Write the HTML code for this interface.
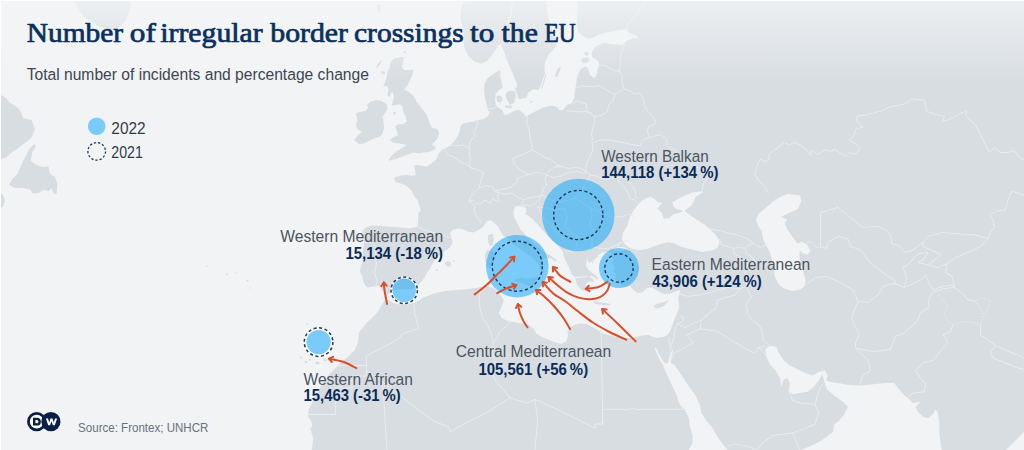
<!DOCTYPE html>
<html><head><meta charset="utf-8"><title>Number of irregular border crossings to the EU</title>
<style>
html,body{margin:0;padding:0;}
body{width:1024px;height:450px;overflow:hidden;background:#f1f3f5;font-family:"Liberation Sans",sans-serif;}
#wrap{position:relative;width:1024px;height:450px;overflow:hidden;background:#f1f3f5;}
svg{position:absolute;left:0;top:0;}

</style></head><body>
<div id="wrap">
<svg width="1024" height="450" viewBox="0 0 1024 450">
<defs>
<linearGradient id="fade" x1="0" y1="0" x2="0" y2="1"><stop offset="0" stop-color="#f4f5f7" stop-opacity="0.74"/><stop offset="1" stop-color="#f4f5f7" stop-opacity="0"/></linearGradient>
</defs>
<rect width="1024" height="450" fill="#f1f3f5"/>
<path d="M74.0 0.0 L78.0 8.0 L82.0 15.0 L90.0 21.0 L100.0 27.0 L110.0 30.0 L120.0 27.0 L126.0 20.0 L130.0 10.0 L131.0 0.0 Z M0.0 94.5 L5.8 97.7 L9.7 102.6 L17.7 107.4 L21.0 112.3 L23.2 118.0 L31.6 120.3 L34.8 128.4 L32.3 136.5 L27.4 141.3 L22.6 144.5 L16.1 149.4 L11.3 152.6 L6.5 157.4 L0.0 159.0 Z M33.9 143.9 L36.1 146.1 L32.3 152.6 L30.6 160.6 L35.5 164.5 L41.9 167.1 L48.4 166.5 L50.0 173.5 L54.8 176.8 L57.4 183.2 L56.5 194.5 L53.2 192.9 L51.6 188.1 L48.4 191.3 L43.5 189.7 L38.7 192.9 L32.3 193.5 L30.6 189.7 L22.6 188.1 L14.5 188.1 L9.0 184.8 L12.9 178.4 L17.7 173.5 L21.0 165.5 L25.8 155.8 L29.0 149.4 Z M0.0 193.0 L3.0 195.0 L5.0 201.0 L3.0 207.0 L0.0 208.0 Z M465.8 0.0 L462.5 4.0 L461.0 10.0 L460.4 19.0 L462.0 25.0 L463.0 30.0 L464.2 40.0 L463.8 46.0 L466.0 51.0 L468.5 56.0 L474.0 61.3 L481.5 63.8 L487.0 61.0 L491.0 56.5 L494.5 51.5 L498.5 45.0 L501.5 44.5 L504.0 51.3 L507.0 60.0 L510.0 66.7 L513.3 75.0 L516.7 83.3 L517.5 85.8 L515.0 89.2 L517.5 95.0 L519.2 99.2 L526.7 97.5 L528.3 92.5 L533.3 89.2 L538.3 90.0 L540.0 87.5 L542.5 80.0 L545.0 73.3 L544.5 66.7 L545.3 61.3 L549.0 53.8 L553.3 50.0 L556.7 45.0 L556.0 38.0 L552.0 30.0 L549.0 20.0 L547.0 10.0 L546.5 0.0 Z M401.7 56.7 L404.2 57.5 L403.3 61.7 L401.7 66.7 L404.2 70.0 L413.3 70.0 L412.5 75.0 L410.0 80.0 L407.5 85.0 L404.2 89.2 L408.3 91.7 L413.3 95.8 L416.7 101.7 L421.7 108.3 L426.7 115.0 L429.2 121.7 L431.7 127.5 L437.5 129.2 L439.2 133.3 L437.5 138.3 L434.2 142.5 L431.7 145.0 L435.8 146.7 L435.0 149.2 L430.0 151.7 L423.3 152.5 L418.3 153.3 L413.3 152.5 L408.3 154.2 L401.7 156.7 L395.0 159.2 L388.3 160.8 L390.8 156.7 L395.8 151.7 L401.7 148.3 L406.7 145.0 L403.3 144.2 L398.3 143.3 L392.5 142.5 L390.0 140.0 L393.3 137.5 L398.3 135.0 L396.7 130.8 L395.0 126.7 L398.3 124.2 L403.3 124.2 L406.7 121.7 L405.8 116.7 L403.3 111.7 L402.5 106.7 L400.0 104.2 L395.8 105.0 L391.7 105.8 L392.5 101.7 L394.2 96.7 L392.5 91.7 L390.8 93.3 L389.2 97.5 L387.5 95.0 L388.3 90.0 L387.5 85.8 L383.3 86.7 L385.0 82.5 L386.7 77.5 L387.5 71.7 L390.0 66.7 L390.8 61.7 L395.0 58.3 Z M381.7 60.0 L377.5 64.2 L375.8 68.3 L378.3 66.7 L380.8 63.3 Z M381.0 71.0 L384.5 71.5 L385.0 74.5 L381.5 74.0 Z M403.5 51.0 L406.5 51.5 L406.0 53.5 L403.5 53.0 Z M375.8 100.0 L381.7 100.8 L386.7 104.2 L387.5 109.2 L385.0 113.3 L382.5 116.7 L383.3 121.7 L384.2 127.5 L382.5 133.3 L380.0 136.7 L374.2 138.3 L369.2 140.8 L364.2 143.3 L359.2 144.2 L354.2 140.0 L357.5 135.8 L361.7 131.7 L357.5 129.2 L355.8 125.0 L357.5 120.0 L355.8 113.3 L360.8 111.7 L365.8 110.8 L368.3 107.5 L366.7 105.0 L370.8 101.7 Z M393.5 112.0 L395.5 112.0 L395.5 114.5 L393.5 114.5 Z M496.5 96.5 L499.0 95.5 L502.0 97.0 L502.5 100.5 L500.0 102.5 L497.0 101.5 Z M506.0 93.0 L509.0 91.0 L515.0 91.0 L515.8 97.0 L514.0 103.0 L510.0 105.0 L507.0 100.0 L505.8 96.0 Z M505.0 105.2 L511.7 105.8 L511.7 108.3 L505.0 107.8 Z M530.5 100.5 L532.5 101.0 L532.5 102.8 L530.5 102.5 Z M541.2 88.3 L543.0 82.0 L545.3 74.2 L546.3 74.5 L544.2 82.0 L542.4 88.5 Z M555.0 76.7 L556.7 70.0 L560.8 65.8 L559.7 71.7 L556.9 76.9 Z M581.7 59.0 L584.0 57.5 L588.0 57.8 L590.0 60.0 L587.0 62.5 L583.5 63.3 L581.5 61.5 Z M584.0 52.5 L587.0 51.7 L589.0 53.5 L588.0 55.8 L585.0 55.5 Z M444.5 263.0 L447.0 261.3 L450.0 261.7 L451.3 264.0 L449.5 267.0 L446.5 266.3 Z M436.0 269.3 L437.8 269.3 L437.8 271.0 L436.0 271.0 Z M453.0 260.5 L455.0 260.5 L455.0 261.8 L453.0 261.8 Z M488.2 234.9 L492.7 233.8 L493.8 239.4 L492.7 244.9 L489.4 246.0 L487.7 240.5 Z M487.0 250.5 L492.5 249.5 L494.5 254.0 L494.0 262.0 L491.5 267.5 L487.5 268.0 L485.5 262.0 L485.0 255.0 Z M514.4 279.5 L520.5 277.8 L527.2 278.4 L533.9 277.8 L538.4 276.7 L536.7 280.1 L535.0 284.5 L531.7 286.7 L527.2 285.6 L522.8 283.4 L518.3 282.3 L515.0 281.2 Z M592.5 301.6 L596.0 301.4 L600.0 302.2 L607.5 303.5 L611.2 304.1 L610.0 305.4 L602.5 305.0 L595.0 303.7 Z M653.8 306.0 L656.9 303.9 L660.4 302.9 L665.5 301.4 L669.1 299.8 L666.6 302.9 L664.5 305.5 L660.4 307.5 L656.3 308.5 L654.3 307.5 Z M299.8 356.7 L302.2 356.7 L302.2 358.3 L299.8 358.3 Z M304.7 361.1 L307.3 361.1 L307.3 362.9 L304.7 362.9 Z M308.8 359.3 L310.8 359.3 L310.8 360.7 L308.8 360.7 Z M315.5 361.7 L319.1 361.7 L319.1 364.3 L315.5 364.3 Z M323.2 358.9 L326.4 358.9 L326.4 361.1 L323.2 361.1 Z M328.4 358.5 L331.2 358.5 L331.2 360.5 L328.4 360.5 Z M306.1 323.4 L307.9 323.4 L307.9 324.6 L306.1 324.6 Z M206.7 265.5 L208.3 265.5 L208.3 266.5 L206.7 266.5 Z M226.0 273.8 L228.0 273.8 L228.0 275.0 L226.0 275.0 Z M234.8 272.2 L236.4 272.2 L236.4 273.2 L234.8 273.2 Z M246.3 280.1 L248.3 280.1 L248.3 281.3 L246.3 281.3 Z M249.5 287.6 L250.9 287.6 L250.9 288.4 L249.5 288.4 Z M306.7 323.4 L308.7 323.4 L308.7 324.6 L306.7 324.6 Z M377.0 4.0 L380.0 5.0 L380.5 12.0 L378.0 13.0 Z M577.5 0.0 L577.5 12.0 L576.7 25.0 L578.3 31.7 L582.0 35.5 L586.7 38.3 L591.7 38.3 L598.3 35.0 L610.0 31.7 L620.0 30.0 L626.7 29.2 L628.3 32.5 L636.7 35.8 L639.2 38.3 L633.3 38.3 L626.7 40.8 L623.3 45.0 L613.3 44.2 L603.3 43.3 L596.7 45.8 L593.3 49.2 L591.7 53.3 L592.5 57.5 L598.3 60.8 L599.2 65.0 L597.5 70.0 L596.7 75.0 L594.2 78.3 L590.0 75.0 L588.3 69.2 L585.8 66.3 L580.8 69.2 L578.3 73.3 L576.7 80.0 L575.8 86.7 L575.0 90.0 L574.2 98.3 L571.7 103.3 L566.7 105.0 L563.3 110.0 L559.2 110.0 L556.7 106.7 L550.0 105.8 L543.3 107.5 L536.7 110.8 L530.0 114.2 L525.8 116.7 L523.3 113.3 L519.2 110.0 L514.2 110.8 L508.3 114.2 L504.2 115.0 L502.5 110.0 L498.3 107.5 L495.8 105.0 L495.0 99.2 L495.8 93.3 L499.2 90.0 L502.5 87.5 L501.7 83.3 L500.0 75.0 L500.8 70.0 L498.3 70.8 L493.3 74.2 L487.5 78.3 L484.2 85.0 L484.2 93.3 L485.8 101.7 L487.5 108.3 L489.5 113.3 L487.5 116.7 L483.3 119.2 L478.3 120.0 L473.3 121.7 L468.3 122.5 L463.3 123.3 L460.8 125.8 L460.0 130.0 L458.3 135.0 L455.8 139.2 L452.5 143.3 L450.0 145.8 L445.8 148.3 L441.7 150.0 L438.5 154.0 L437.5 156.7 L435.0 160.8 L431.7 163.3 L426.7 166.7 L421.7 165.8 L417.5 165.0 L414.2 165.3 L415.0 170.0 L415.8 175.0 L411.7 175.8 L405.8 175.0 L400.0 175.8 L394.2 177.5 L395.0 181.7 L400.0 183.3 L405.0 185.0 L408.3 187.5 L411.7 190.8 L414.2 195.8 L417.5 200.0 L419.2 205.0 L420.8 210.0 L418.3 213.3 L418.3 220.0 L417.5 226.7 L410.0 228.3 L400.0 227.5 L390.0 226.7 L380.0 225.8 L371.7 225.8 L365.8 227.5 L362.5 230.8 L363.3 236.7 L364.2 241.7 L363.0 250.0 L362.5 261.7 L360.8 266.7 L360.0 271.7 L362.5 276.7 L363.3 281.7 L365.8 286.0 L368.0 287.5 L373.0 286.5 L377.0 285.5 L380.5 287.0 L382.0 290.0 L383.5 293.0 L385.5 296.0 L386.8 296.3 L389.5 293.0 L393.0 290.3 L400.0 289.5 L408.0 289.5 L414.0 288.3 L418.0 285.0 L422.0 281.0 L425.0 276.7 L426.7 272.5 L430.0 269.2 L431.7 265.0 L435.0 260.0 L440.0 255.0 L445.0 250.8 L450.0 247.5 L452.5 243.3 L451.7 238.3 L450.0 233.3 L452.5 230.0 L458.3 228.3 L463.3 229.2 L468.3 231.7 L473.3 232.5 L478.3 230.0 L483.3 226.7 L485.8 222.5 L488.0 220.3 L491.7 220.8 L497.5 225.8 L500.8 231.7 L503.3 235.8 L508.3 238.2 L513.9 244.9 L519.4 248.3 L525.0 252.7 L530.6 256.1 L535.0 260.5 L538.4 265.0 L540.6 270.5 L541.5 275.5 L544.0 271.0 L543.0 266.0 L541.0 262.0 L545.0 258.5 L547.3 258.3 L550.6 258.3 L554.0 260.5 L556.5 262.0 L555.8 259.4 L551.7 256.1 L545.0 252.7 L539.5 248.3 L533.9 243.8 L528.3 238.2 L523.9 232.7 L520.5 229.3 L517.5 223.3 L514.2 217.5 L513.3 211.7 L515.0 206.7 L520.0 205.5 L525.0 207.0 L525.8 208.3 L526.5 212.5 L524.5 214.0 L527.5 215.2 L531.7 218.3 L536.7 223.3 L541.7 229.2 L547.0 235.0 L553.0 241.0 L559.0 246.5 L562.8 251.5 L564.1 257.7 L566.6 262.7 L568.5 266.4 L570.3 270.2 L571.6 273.9 L573.4 275.8 L575.3 277.6 L575.9 281.4 L577.2 285.1 L579.0 287.6 L581.5 289.5 L584.0 290.7 L585.3 291.3 L586.5 287.6 L585.9 283.9 L587.8 282.0 L590.2 281.4 L592.7 282.6 L594.0 280.7 L592.1 278.2 L589.6 277.0 L591.0 275.5 L594.5 277.5 L597.7 279.8 L598.5 279.0 L595.9 275.8 L592.7 273.3 L589.6 270.8 L587.1 268.3 L585.9 264.5 L587.0 261.0 L585.9 257.1 L587.5 259.5 L589.0 263.3 L591.5 261.6 L593.4 263.9 L592.3 259.2 L594.6 260.4 L595.0 257.5 L597.1 257.9 L598.0 255.0 L601.7 252.5 L606.0 251.7 L610.0 252.5 L613.0 254.0 L611.0 257.5 L614.0 259.0 L612.0 263.0 L614.5 266.5 L613.0 271.0 L616.0 274.5 L615.0 279.0 L619.0 282.0 L622.0 285.5 L626.0 287.0 L630.0 286.0 L633.3 290.0 L638.3 293.3 L643.3 291.7 L646.7 288.3 L651.7 287.5 L656.7 290.0 L661.7 293.3 L666.7 294.2 L671.7 293.3 L675.8 291.2 L680.3 290.1 L679.3 294.2 L678.3 298.3 L678.8 302.4 L679.3 306.5 L678.3 310.6 L676.3 314.6 L674.7 318.7 L673.2 322.8 L671.7 326.9 L670.6 330.0 L669.7 331.5 L667.3 335.2 L663.4 336.7 L657.2 337.9 L651.7 336.7 L648.8 334.8 L642.5 335.4 L637.5 336.6 L630.0 337.9 L622.5 337.9 L615.0 336.6 L607.5 334.8 L602.5 333.5 L597.5 329.8 L592.5 327.2 L586.2 324.1 L580.0 323.5 L575.0 324.8 L570.0 327.2 L567.5 331.0 L568.1 336.0 L566.2 341.6 L561.2 344.1 L555.0 342.2 L548.8 339.8 L542.5 337.2 L536.2 333.5 L533.8 329.1 L531.0 326.8 L528.5 324.5 L518.5 323.1 L508.5 321.2 L504.5 319.5 L501.3 317.5 L498.8 312.5 L501.3 307.5 L503.8 300.0 L501.6 296.8 L499.9 294.0 L497.2 291.2 L492.7 287.9 L488.2 286.2 L481.6 286.7 L476.0 287.9 L473.3 288.3 L466.7 289.2 L456.7 290.0 L446.7 290.8 L438.3 292.5 L430.0 295.0 L423.3 297.5 L418.0 301.0 L414.0 303.0 L408.0 304.5 L400.0 304.5 L394.0 303.5 L390.0 301.0 L386.0 299.0 L384.2 300.8 L380.8 306.7 L376.7 313.3 L371.7 318.3 L366.7 322.5 L363.5 327.0 L359.0 332.5 L358.0 342.5 L354.8 350.0 L348.5 356.3 L342.3 361.3 L336.0 367.5 L329.8 373.8 L323.5 381.3 L321.9 384.7 L315.6 395.6 L311.7 403.4 L308.6 409.7 L307.8 415.9 L310.9 420.6 L312.5 425.3 L310.2 428.4 L311.7 433.1 L313.3 439.4 L312.5 445.6 L311.7 450.0 L688.8 450.0 L692.5 443.0 L692.5 435.5 L690.0 426.8 L688.8 418.0 L685.0 410.5 L678.8 403.0 L676.3 394.3 L672.0 385.5 L668.1 376.8 L665.0 370.6 L663.0 365.0 L660.4 361.0 L657.6 355.5 L655.6 350.5 L654.7 347.8 L655.9 347.6 L657.5 350.5 L659.6 355.0 L662.2 359.5 L665.0 363.2 L667.3 363.6 L668.5 361.5 L670.1 357.3 L672.0 350.0 L673.1 350.2 L671.5 357.5 L670.2 362.0 L672.5 364.0 L674.2 364.5 L677.8 369.6 L681.9 375.8 L686.0 381.9 L690.0 388.0 L696.3 396.8 L700.0 405.5 L701.3 413.0 L706.3 420.5 L712.5 428.0 L717.5 436.8 L723.8 445.5 L727.5 450.0 L800.0 450.0 L803.0 449.3 L811.8 445.5 L819.3 441.8 L826.8 436.8 L833.0 431.8 L834.3 424.3 L839.3 420.5 L844.3 414.3 L848.0 406.8 L843.0 401.8 L834.3 395.5 L826.8 389.3 L824.3 381.8 L822.5 374.0 L820.5 377.0 L818.8 380.5 L813.8 386.8 L807.5 391.8 L800.0 393.0 L792.5 394.3 L788.8 390.5 L790.0 384.3 L787.5 378.0 L783.8 379.3 L781.3 386.8 L780.0 378.0 L776.3 371.8 L770.0 364.3 L766.3 356.8 L765.0 349.3 L770.0 345.5 L776.3 346.8 L778.8 353.0 L783.8 360.5 L790.0 365.5 L797.5 369.3 L805.0 373.0 L812.5 375.5 L818.8 371.8 L825.0 370.5 L827.5 375.5 L826.5 380.5 L829.3 381.8 L838.0 383.0 L848.0 385.0 L860.5 385.5 L873.0 384.3 L885.5 383.0 L894.3 383.0 L898.0 388.0 L903.0 394.3 L908.0 398.0 L913.0 403.0 L920.5 401.8 L915.5 406.8 L918.0 411.8 L923.0 416.8 L928.0 418.0 L933.0 414.3 L935.5 409.3 L938.0 413.0 L939.3 423.0 L939.3 433.0 L940.5 443.0 L941.8 450.0 L1005.5 450.0 L1013.0 443.0 L1020.5 435.5 L1024.0 431.8 L1024.0 0.0 Z" fill="#d8dde1"/>
<path d="M630.7 215.5 L634.2 209.3 L641.3 201.3 L646.6 197.8 L649.5 197.6 L650.4 196.5 L651.3 197.6 L652.9 197.8 L658.2 202.2 L662.6 203.1 L660.0 205.5 L657.3 208.4 L661.7 212.9 L663.5 218.2 L668.8 218.2 L673.3 214.6 L678.6 212.9 L682.2 212.0 L685.7 212.0 L689.3 214.6 L694.6 218.2 L699.9 221.7 L705.3 225.3 L710.6 229.7 L715.9 235.1 L718.6 239.5 L719.5 243.9 L716.8 248.4 L710.6 251.0 L701.7 251.9 L694.6 250.2 L687.5 248.4 L680.4 246.6 L673.3 243.1 L668.0 242.2 L660.9 243.9 L653.7 246.6 L646.6 249.3 L639.5 250.2 L630.7 248.4 L625.3 244.8 L621.8 239.5 L622.7 233.3 L627.1 226.2 L628.9 220.0 Z M682.4 212.6 L682.2 210.2 L676.8 209.3 L673.3 206.6 L672.4 202.2 L676.8 199.5 L682.2 196.9 L687.5 194.2 L692.8 192.4 L698.2 191.5 L702.6 191.2 L703.0 192.3 L699.9 194.2 L695.5 196.9 L693.7 201.3 L691.0 205.8 L687.5 208.4 L685.0 210.2 L685.3 212.6 Z M787.3 194.0 L800.1 195.2 L801.4 201.6 L797.5 209.3 L791.2 211.9 L786.0 214.4 L780.9 217.0 L787.3 219.5 L784.8 223.4 L787.3 229.8 L791.2 234.9 L795.0 240.0 L797.5 243.8 L801.4 241.8 L807.0 244.5 L810.3 250.5 L808.0 254.8 L802.7 253.2 L799.8 250.5 L799.5 256.6 L801.0 264.3 L803.5 272.0 L805.5 280.0 L805.0 286.0 L800.0 289.5 L792.0 291.0 L784.0 288.5 L778.4 284.0 L775.0 277.0 L773.5 268.0 L772.0 260.0 L769.4 251.5 L765.6 245.1 L763.0 238.7 L761.7 231.0 L757.9 225.9 L755.9 219.5 L759.2 213.1 L765.6 208.0 L773.2 201.6 L780.9 196.5 Z M575.0 277.0 L581.0 276.4 L586.8 275.9 L586.8 276.9 L581.0 277.5 L575.0 278.2 Z M614.0 248.5 L619.0 247.0 L625.0 247.5 L627.0 249.5 L622.0 251.0 L616.0 250.5 Z" fill="#f1f3f5"/>
<path d="M527.5 116.7 L526.7 123.3 L529.2 130.0 L530.0 138.3 L531.7 145.0 L532.5 150.0 M532.5 150.0 L526.7 152.5 L520.0 155.8 L512.5 158.3 L514.2 164.2 L518.3 168.3 L523.3 171.7 L528.3 174.2 L530.0 174.2 M532.5 150.0 L538.3 153.3 L545.0 157.5 L550.0 159.2 L556.7 164.2 L561.7 166.7 M561.7 166.7 L568.3 168.3 L575.0 167.5 L581.7 168.3 L586.7 171.7 M546.7 175.0 L550.0 170.0 L555.0 166.7 L561.7 166.7 M566.7 110.8 L576.7 111.7 L586.7 111.7 L590.8 113.3 M572.5 104.2 L576.7 100.8 L581.7 102.5 L586.7 104.2 L586.7 110.0 L590.8 113.3 M590.8 113.3 L594.2 116.7 L600.0 115.8 L606.7 112.5 L609.2 104.2 L613.3 100.0 L615.0 94.2 M594.2 116.7 L595.0 121.7 L593.3 126.7 L591.5 133.3 L592.5 138.3 L592.0 143.3 L593.0 150.0 L590.0 156.7 L586.7 163.3 L585.5 168.0 L586.7 171.7 M477.5 120.8 L476.7 126.7 L474.2 131.7 L475.0 136.7 L470.8 140.0 L469.2 145.0 L470.0 150.0 M450.0 145.0 L456.7 145.8 L463.3 145.0 L468.3 148.3 L470.0 150.0 M444.2 150.0 L448.3 155.0 L455.0 157.5 L460.0 161.7 L465.8 164.2 L469.2 166.7 L471.7 168.3 M470.0 150.0 L469.2 155.0 L470.8 159.2 L469.2 163.3 L470.0 166.7 L471.7 168.3 M471.7 168.3 L476.7 169.2 L483.3 172.5 L481.7 178.3 L480.0 183.3 L479.2 187.5 M487.5 108.5 L492.0 108.8 L496.5 107.0 M479.2 187.5 L486.7 185.8 L493.3 186.7 L494.2 190.8 L498.3 192.5 L497.5 197.5 L499.2 200.8 L496.7 201.7 L493.3 198.3 L490.0 203.3 L485.0 200.0 L480.0 204.2 L475.8 203.3 L472.5 200.0 L469.2 201.7 L470.8 196.7 L474.2 192.5 L479.2 187.5 M469.2 201.7 L475.0 205.8 L474.2 211.7 L476.7 216.7 L480.0 220.8 L481.7 224.2 M494.2 190.8 L500.0 190.0 L506.7 188.3 L511.7 186.7 L516.7 182.5 L517.5 178.3 L522.5 176.7 L530.0 174.2 L536.7 172.5 L543.3 173.3 L546.7 175.0 L545.0 180.0 L546.7 185.0 L543.3 189.2 L541.7 195.0 L536.7 196.7 L530.0 197.5 L523.3 200.0 L516.7 196.7 L512.5 193.3 L505.0 194.2 L498.3 192.5 M546.7 175.0 L553.3 177.5 L561.7 175.8 L568.3 172.5 L576.7 171.7 L583.3 173.3 L586.7 171.7 M523.3 200.0 L521.7 204.2 L520.8 206.7 L525.0 205.0 L530.0 205.8 L535.0 203.3 L538.3 200.8 L541.7 195.0 M541.7 195.0 L546.7 197.5 L551.7 200.8 L556.7 202.5 L565.0 201.0 L575.0 198.0 M575.0 198.0 L580.0 192.0 L586.0 183.0 L590.0 175.0 M586.7 171.7 L590.0 175.0 L596.7 176.0 L605.0 179.2 L615.8 177.5 M538.0 207.0 L548.0 208.0 L558.0 209.0 L565.0 209.0 L567.0 218.0 L565.0 226.0 L570.0 232.0 M538.0 207.0 L543.0 217.0 L551.0 226.0 L559.0 235.0 L563.0 238.0 L570.0 232.0 L577.0 236.0 L585.0 240.0 L592.0 238.0 M575.0 198.0 L583.0 203.0 L590.0 208.0 L592.0 215.0 L590.0 224.0 L594.0 232.0 L592.0 238.0 L592.0 247.0 M565.0 251.0 L572.0 252.0 L576.0 248.0 L577.0 244.0 L577.0 236.0 M576.0 248.0 L585.0 250.0 L592.0 247.0 L597.0 248.0 L607.0 249.0 L615.0 246.0 L620.0 243.0 M590.0 208.0 L600.0 212.0 L612.0 217.5 L622.0 216.5 L629.0 214.0 L634.0 217.0 M620.0 243.0 L627.0 240.5 L630.0 243.0 M620.0 243.0 L617.0 248.0 L614.0 253.0 M625.0 44.2 L622.5 50.0 L620.0 56.7 L620.8 63.3 L619.2 70.8 M599.2 65.8 L604.2 65.0 L610.0 68.3 L615.0 70.8 L619.2 70.8 M619.2 70.8 L622.5 75.8 L621.7 81.7 L624.2 89.2 M575.0 88.3 L581.7 85.8 L590.0 86.7 L600.0 85.8 L605.0 89.2 L611.7 93.3 L615.0 94.2 L624.2 89.2 M624.2 89.2 L630.0 90.8 L634.2 94.2 L640.0 93.3 L643.3 98.3 L644.2 105.8 L648.3 111.7 L653.3 116.7 L655.8 121.7 L653.3 125.0 L648.3 126.7 L647.5 131.7 L649.2 137.5 M649.2 137.5 L642.5 140.0 L640.0 145.8 L633.3 145.0 L626.7 143.3 L618.3 141.7 L610.0 140.0 L600.0 140.0 L594.2 142.5 L592.0 143.3 M649.2 137.5 L655.0 135.8 L661.7 135.0 L665.8 138.3 L667.5 144.2 L670.8 148.3 L675.0 150.0 L678.3 155.0 L683.3 160.0 L690.0 163.3 L696.7 166.7 L703.3 171.7 L706.7 178.3 L703.3 183.3 L702.5 190.8 M615.8 177.5 L620.0 182.5 L625.0 187.5 L628.3 193.3 L630.0 198.3 L635.0 200.0 L637.5 203.3 M615.8 177.5 L622.5 177.5 L628.3 180.8 L632.5 185.8 L635.8 191.7 L635.0 195.8 L637.5 198.3 M512.5 0.0 L511.0 15.0 L503.8 30.0 L501.3 46.0 M647.5 0.0 L637.5 12.5 L627.5 25.0 L626.3 30.0 M364.5 242.0 L372.0 243.0 L376.0 247.0 L375.4 253.6 L376.3 264.2 L374.6 273.0 L377.2 281.8 L375.4 287.0 M417.5 227.0 L425.0 230.0 L435.0 233.0 L445.0 236.0 L451.5 238.0 M708.3 228.3 L715.0 230.0 L721.7 230.8 L728.3 233.3 L735.0 234.2 L741.7 236.7 L748.3 239.2 L753.3 243.3 L760.0 247.5 L767.5 244.2 M719.2 239.2 L721.7 245.0 L728.3 246.7 L733.3 248.3 L738.3 247.5 L745.0 248.3 L748.3 245.0 L753.3 243.3 M733.3 248.3 L734.2 254.2 L740.0 256.7 L745.0 260.0 L748.3 263.3 M745.0 248.3 L746.7 254.2 L751.7 256.7 L755.0 261.7 L748.3 263.3 L745.0 272.5 M768.3 193.3 L765.0 186.7 L758.3 180.0 L755.0 175.0 L756.7 166.7 L760.0 159.2 L765.0 161.7 L769.2 159.2 L769.2 154.2 L774.2 150.0 L778.0 147.5 L784.3 142.5 L789.3 144.5 L794.3 142.5 L800.5 145.0 L806.8 150.0 L810.5 155.0 L811.8 150.5 L818.0 154.5 L824.3 150.0 L830.5 151.3 L835.5 149.5 L841.8 154.5 L846.8 155.5 L849.3 152.5 L855.5 153.8 L860.0 148.8 L856.8 144.5 L849.3 140.0 L854.3 135.0 L855.5 129.5 L863.0 127.0 L856.8 121.3 L856.8 116.3 L868.0 114.5 L884.3 110.0 L888.0 107.5 L905.5 103.8 L911.8 98.8 L918.0 99.5 L924.3 100.0 L926.8 111.3 L934.3 113.8 L938.0 115.0 L944.3 116.3 L943.0 121.3 L948.0 120.0 L955.5 116.3 L966.8 110.5 L965.5 115.5 L975.5 125.0 L989.3 152.5 L994.3 147.5 L1000.5 152.5 L1008.0 152.5 L1014.3 150.5 L1019.3 157.5 L1024.0 160.0 M806.7 243.3 L810.0 240.8 L816.7 247.5 L820.5 247.0 L820.5 212.5 L838.0 207.5 L850.5 217.5 L863.0 227.5 L878.0 226.3 L885.5 230.0 L890.5 235.0 L891.8 243.8 L898.0 245.0 L905.5 252.5 L913.0 250.0 L923.0 242.5 L928.0 236.3 L943.0 232.5 L958.0 233.8 L975.5 235.0 L988.0 238.8 L990.5 232.5 L994.3 227.5 L993.0 220.0 L989.3 215.0 L995.5 211.3 L1005.5 210.0 L1008.0 200.0 L1011.8 191.3 L1024.0 195.0 M820.5 247.0 L826.7 248.3 L828.0 242.5 L838.0 236.3 L848.0 238.8 L850.5 246.3 L860.5 250.0 L868.0 260.0 L878.0 268.8 L888.0 276.3 L894.3 280.0 L895.5 283.8 M806.8 283.8 L815.5 277.5 L826.8 276.3 L840.5 282.5 L853.0 290.0 L858.0 301.3 M858.0 301.3 L868.0 302.5 L878.0 295.0 L883.0 286.3 L890.5 283.8 L895.5 283.8 M895.5 283.8 L904.3 287.5 L913.0 283.8 L920.5 280.0 L925.5 275.0 L929.3 283.8 L933.0 290.0 L943.0 286.3 L953.0 285.0 L954.3 287.5 M904.3 287.5 L906.8 277.5 L903.0 267.5 L908.0 265.0 L913.0 258.8 L918.0 253.8 L928.0 252.5 L923.0 260.0 L918.0 262.5 L928.0 265.0 L938.0 257.5 L940.5 253.8 L930.5 250.0 L923.0 246.3 L923.0 242.5 M928.0 265.0 L938.0 267.5 L946.8 263.8 M988.0 238.8 L980.5 246.3 L968.0 252.5 L955.5 257.5 L946.8 263.8 L945.5 272.5 L951.8 276.3 L954.3 285.0 L954.3 287.5 L963.0 293.8 L968.0 300.0 L975.5 301.3 M954.3 287.5 L943.0 288.8 L933.0 292.5 L928.0 300.0 L929.3 307.5 L920.5 312.5 L918.0 320.0 L910.5 327.5 L903.0 333.8 L895.5 336.3 L893.0 342.5 L890.5 349.3 L873.0 351.8 L855.5 348.0 M858.0 301.3 L854.3 310.0 L851.8 317.5 L855.5 327.5 L859.3 335.0 L855.5 342.5 L855.5 348.0 L868.0 360.5 L870.5 370.5 L863.0 375.5 L859.3 385.5 M953.0 325.0 L950.5 331.3 L943.0 335.0 L948.0 342.5 L943.0 348.0 L933.0 360.5 L923.0 363.0 L915.5 370.5 L920.5 378.0 L925.5 384.3 L924.3 391.8 L913.0 393.0 L908.0 396.8 M980.5 325.0 L980.5 335.0 L985.5 338.0 L995.5 345.5 L990.5 351.8 L993.0 358.0 L1005.5 363.0 L1018.0 368.0 L1024.0 369.3 M995.5 345.5 L1010.0 352.0 L1024.0 358.0 M678.8 293.8 L687.5 296.3 L700.0 295.0 L710.0 292.5 L718.8 290.0 L727.5 287.5 L740.0 288.8 L746.3 286.3 L747.5 280.0 L745.0 272.5 M746.3 286.3 L751.3 297.5 L746.3 303.8 L747.5 313.8 L752.5 320.0 L760.0 326.3 L762.5 333.8 L763.8 341.3 L768.8 345.0 M740.0 288.8 L735.0 295.0 L717.5 300.0 L716.3 307.5 L701.3 320.0 L700.0 328.8 M701.3 320.0 L685.0 327.5 L677.5 323.8 M677.5 323.8 L675.0 330.0 L673.8 337.5 L671.3 345.0 L670.0 355.0 L668.5 360.0 M680.5 316.0 L684.0 317.5 L683.0 321.0 L678.0 323.8 M700.0 328.8 L686.3 335.0 L693.8 342.5 L685.0 347.5 L675.0 352.5 L671.0 360.0 M700.0 328.8 L717.5 331.3 L735.0 342.5 L755.0 353.8 L758.8 347.5 L765.0 346.3 M758.8 347.5 L763.0 352.0 L766.0 356.0 M671.0 353.0 L668.8 338.5 M788.8 390.5 L792.5 400.5 L800.0 403.0 L815.0 404.3 L818.8 413.0 L815.0 424.3 L792.5 433.0 L772.5 435.5 L762.5 443.0 L757.5 450.0 M815.0 404.3 L817.5 395.5 L820.0 388.0 L822.5 384.3 M792.5 433.0 L800.0 450.0 M727.5 446.0 L735.0 444.3 L745.0 445.5 L757.5 450.0 M601.0 329.0 L601.3 338.0 L602.5 409.3 L602.5 424.0 L595.0 424.0 L595.0 428.0 M602.5 409.3 L630.0 409.3 L632.5 408.0 L635.0 409.3 L686.0 409.3 M595.0 428.0 L565.0 413.0 L535.0 399.3 L527.5 403.0 L510.0 398.0 L500.0 385.5 L495.0 380.0 L492.5 372.5 L495.0 362.5 L492.5 352.5 L493.0 343.8 M535.0 399.3 L537.5 420.5 L535.0 450.0 M510.0 398.0 L490.0 410.5 L470.0 421.0 L450.0 431.8 L448.8 426.8 L435.0 421.8 L417.5 409.3 L400.0 395.5 L382.5 381.8 L366.3 370.5 M480.0 308.8 L482.5 317.5 L487.5 325.0 L491.3 333.8 L493.0 343.8 L497.5 336.3 L500.0 331.3 L507.5 325.0 L511.3 321.3 M480.0 308.8 L479.0 300.0 L480.5 290.0 M413.8 304.0 L415.0 315.0 L417.5 323.8 L418.8 328.8 L410.0 331.3 L402.5 333.8 L398.8 338.8 L390.0 343.8 L380.0 348.8 L372.5 352.5 L366.3 356.3 L366.3 370.5 M337.5 365.5 L366.3 365.5 M366.3 370.5 L366.3 376.0 L352.0 376.0 L352.0 388.0 L335.6 388.0 L335.6 414.5 L308.4 414.5 M382.5 381.8 L383.8 400.0 L387.0 450.0" fill="none" stroke="#e9ecef" stroke-width="1" stroke-linejoin="round" stroke-linecap="round"/>
<path d="M938.0 295.0 L943.0 300.0 L948.0 306.3 L944.3 312.5 L946.8 320.0 L953.0 325.0 L963.0 321.3 L973.0 322.5 L980.5 325.0 L983.0 317.5 L981.8 310.0 L975.5 302.5 M975.5 301.3 L983.0 297.5 L990.5 301.3 L988.0 310.0 L983.0 317.5" fill="none" stroke="#e9ecef" stroke-width="1" stroke-dasharray="1.5 1.5"/>
<rect width="1024" height="82" fill="url(#fade)"/>
<circle cx="578.3" cy="215" r="36.3" fill="#03a4fd" fill-opacity="0.5"/><circle cx="578.3" cy="215" r="24.6" fill="none" stroke="#1f3a5c" stroke-width="1.4" stroke-dasharray="3.04 2.48"/><circle cx="517.3" cy="266.2" r="31.3" fill="#03a4fd" fill-opacity="0.5"/><circle cx="517.3" cy="266.2" r="25" fill="none" stroke="#1f3a5c" stroke-width="1.4" stroke-dasharray="3.09 2.52"/><circle cx="619.0" cy="268.0" r="20" fill="#03a4fd" fill-opacity="0.5"/><circle cx="619.0" cy="268.0" r="14.2" fill="none" stroke="#1f3a5c" stroke-width="1.4" stroke-dasharray="3.07 2.51"/><circle cx="404.2" cy="290.3" r="12.80" fill="none" stroke="#ffffff" stroke-opacity="0.8" stroke-width="2.00"/><circle cx="404.2" cy="290.3" r="11.8" fill="#03a4fd" fill-opacity="0.5"/><circle cx="404.2" cy="290.3" r="13.2" fill="none" stroke="#1f3a5c" stroke-width="1.5" stroke-dasharray="3.04 2.49"/><circle cx="318.6" cy="342.1" r="13.50" fill="none" stroke="#ffffff" stroke-opacity="0.8" stroke-width="2.80"/><circle cx="318.6" cy="342.1" r="12.1" fill="#03a4fd" fill-opacity="0.5"/><circle cx="318.6" cy="342.1" r="14.3" fill="none" stroke="#1f3a5c" stroke-width="1.5" stroke-dasharray="3.09 2.53"/><path d="M474.75 294.40 C476.81 292.75 483.18 288.00 487.10 284.50 C491.03 281.00 494.95 276.73 498.30 273.40 C501.65 270.07 504.52 267.27 507.20 264.50 C509.88 261.73 513.20 258.08 514.40 256.80" fill="none" stroke="#d8502b" stroke-width="2.0" stroke-linecap="round"/><path d="M514.0 261.2 L514.4 256.8 L510.1 257.5" fill="none" stroke="#d8502b" stroke-width="2.0" stroke-linecap="round" stroke-linejoin="round"/><path d="M497.25 293.20 C498.79 292.40 503.32 289.75 506.50 288.40 C509.68 287.05 514.67 285.65 516.30 285.10" fill="none" stroke="#d8502b" stroke-width="2.0" stroke-linecap="round"/><path d="M513.9 288.8 L516.3 285.1 L512.1 283.6" fill="none" stroke="#d8502b" stroke-width="2.0" stroke-linecap="round" stroke-linejoin="round"/><path d="M527.50 327.30 C526.83 326.29 524.79 323.72 523.50 321.25 C522.21 318.78 520.68 315.38 519.75 312.50 C518.82 309.62 518.21 305.42 517.90 304.00" fill="none" stroke="#d8502b" stroke-width="2.0" stroke-linecap="round"/><path d="M521.3 306.8 L517.9 304.0 L516.0 308.0" fill="none" stroke="#d8502b" stroke-width="2.0" stroke-linecap="round" stroke-linejoin="round"/><path d="M570.00 329.10 C568.96 327.33 566.25 322.14 563.75 318.50 C561.25 314.86 558.33 311.00 555.00 307.25 C551.67 303.50 546.92 298.88 543.75 296.00 C540.58 293.12 537.29 291.00 536.00 290.00" fill="none" stroke="#d8502b" stroke-width="2.0" stroke-linecap="round"/><path d="M540.4 290.0 L536.0 290.0 L537.1 294.3" fill="none" stroke="#d8502b" stroke-width="2.0" stroke-linecap="round" stroke-linejoin="round"/><path d="M626.25 339.75 C623.54 338.50 615.62 335.17 610.00 332.25 C604.38 329.33 597.92 325.79 592.50 322.25 C587.08 318.71 582.08 314.54 577.50 311.00 C572.92 307.46 569.00 303.88 565.00 301.00 C561.00 298.12 557.23 296.92 553.50 293.75 C549.77 290.58 544.42 283.96 542.60 282.00" fill="none" stroke="#d8502b" stroke-width="2.0" stroke-linecap="round"/><path d="M546.9 282.7 L542.6 282.0 L543.0 286.4" fill="none" stroke="#d8502b" stroke-width="2.0" stroke-linecap="round" stroke-linejoin="round"/><path d="M635.60 341.25 C632.58 338.29 623.06 328.86 617.50 323.50 C611.94 318.14 604.79 311.50 602.25 309.10" fill="none" stroke="#d8502b" stroke-width="2.0" stroke-linecap="round"/><path d="M606.6 309.5 L602.2 309.1 L602.9 313.5" fill="none" stroke="#d8502b" stroke-width="2.0" stroke-linecap="round" stroke-linejoin="round"/><path d="M609.75 283.90 C609.33 285.04 608.50 288.77 607.25 290.75 C606.00 292.73 604.12 294.46 602.25 295.75 C600.38 297.04 598.29 297.92 596.00 298.50 C593.71 299.08 591.42 299.40 588.50 299.25 C585.58 299.10 582.04 298.71 578.50 297.60 C574.96 296.49 570.79 294.68 567.25 292.60 C563.71 290.52 560.38 287.70 557.25 285.10 C554.12 282.50 549.96 278.35 548.50 277.00" fill="none" stroke="#d8502b" stroke-width="2.0" stroke-linecap="round"/><path d="M552.9 277.4 L548.5 277.0 L549.2 281.3" fill="none" stroke="#d8502b" stroke-width="2.0" stroke-linecap="round" stroke-linejoin="round"/><path d="M607.50 281.75 C606.00 282.62 602.12 285.81 598.50 287.00 C594.88 288.19 587.88 288.58 585.75 288.90" fill="none" stroke="#d8502b" stroke-width="2.0" stroke-linecap="round"/><path d="M588.8 285.7 L585.8 288.9 L589.6 291.1" fill="none" stroke="#d8502b" stroke-width="2.0" stroke-linecap="round" stroke-linejoin="round"/><path d="M570.40 281.75 C568.83 280.86 563.40 278.23 561.00 276.40 C558.60 274.57 557.35 272.32 556.00 270.75 C554.65 269.18 553.42 267.62 552.90 267.00" fill="none" stroke="#d8502b" stroke-width="2.0" stroke-linecap="round"/><path d="M557.2 267.9 L552.9 267.0 L553.0 271.4" fill="none" stroke="#d8502b" stroke-width="2.0" stroke-linecap="round" stroke-linejoin="round"/><path d="M387.00 304.00 C386.75 302.67 385.97 298.67 385.50 296.00 C385.03 293.33 384.48 290.25 384.20 288.00 C383.92 285.75 383.87 283.42 383.80 282.50" fill="none" stroke="#d8502b" stroke-width="2.0" stroke-linecap="round"/><path d="M386.8 285.8 L383.8 282.5 L381.3 286.2" fill="none" stroke="#d8502b" stroke-width="2.0" stroke-linecap="round" stroke-linejoin="round"/><path d="M356.40 368.10 C354.17 367.05 347.55 363.37 343.00 361.80 C338.45 360.23 331.42 359.22 329.10 358.70" fill="none" stroke="#d8502b" stroke-width="2.0" stroke-linecap="round"/><path d="M333.1 356.8 L329.1 358.7 L331.9 362.1" fill="none" stroke="#d8502b" stroke-width="2.0" stroke-linecap="round" stroke-linejoin="round"/><circle cx="96.7" cy="126.2" r="8.8" fill="#03a4fd" fill-opacity="0.5"/><circle cx="96.7" cy="151.4" r="8.8" fill="none" stroke="#1f3a5c" stroke-width="1.3" stroke-dasharray="2.34 1.91"/><g><circle cx="36.7" cy="421.65" r="9.6" fill="#0b1e46"/><circle cx="36.7" cy="421.65" r="6.9" fill="#fff"/><circle cx="50.9" cy="421.65" r="9.6" fill="#0b1e46"/><path d="M33 417.7 h3.9 a3.95 3.95 0 0 1 0 7.9 h-3.9 z M35.4 420 v3.3 h1.4 a1.65 1.65 0 0 0 0 -3.3 z" fill="#0b1e46" fill-rule="evenodd"/><path d="M45.9 418.4 h2.1 l1.2 4.1 l1.3 -4.1 h2 l1.3 4.1 l1.2 -4.1 h2.1 l-2.3 6.9 h-1.9 l-1.4 -4.1 l-1.4 4.1 h-1.9 z" fill="#fff"/></g><text x="26.75" y="42.1" font-family="Liberation Serif" font-size="26.5" font-weight="normal" textLength="96.25" lengthAdjust="spacingAndGlyphs" fill="#0a3060" stroke="#0a3060" stroke-width="0.7" stroke-linejoin="round">Number</text>
<text x="129.85" y="42.1" font-family="Liberation Serif" font-size="26.5" font-weight="normal" textLength="26.00" lengthAdjust="spacingAndGlyphs" fill="#0a3060" stroke="#0a3060" stroke-width="0.7" stroke-linejoin="round">of</text>
<text x="160.35" y="42.1" font-family="Liberation Serif" font-size="26.5" font-weight="normal" textLength="102.25" lengthAdjust="spacingAndGlyphs" fill="#0a3060" stroke="#0a3060" stroke-width="0.7" stroke-linejoin="round">irregular</text>
<text x="270.25" y="42.1" font-family="Liberation Serif" font-size="26.5" font-weight="normal" textLength="77.75" lengthAdjust="spacingAndGlyphs" fill="#0a3060" stroke="#0a3060" stroke-width="0.7" stroke-linejoin="round">border</text>
<text x="354.00" y="42.1" font-family="Liberation Serif" font-size="26.5" font-weight="normal" textLength="109.75" lengthAdjust="spacingAndGlyphs" fill="#0a3060" stroke="#0a3060" stroke-width="0.7" stroke-linejoin="round">crossings</text>
<text x="470.00" y="42.1" font-family="Liberation Serif" font-size="26.5" font-weight="normal" textLength="24.25" lengthAdjust="spacingAndGlyphs" fill="#0a3060" stroke="#0a3060" stroke-width="0.7" stroke-linejoin="round">to</text>
<text x="501.60" y="42.1" font-family="Liberation Serif" font-size="26.5" font-weight="normal" textLength="36.25" lengthAdjust="spacingAndGlyphs" fill="#0a3060" stroke="#0a3060" stroke-width="0.7" stroke-linejoin="round">the</text>
<text x="544.50" y="42.1" font-family="Liberation Serif" font-size="26.5" font-weight="normal" textLength="31.00" lengthAdjust="spacingAndGlyphs" fill="#0a3060" stroke="#0a3060" stroke-width="0.7" stroke-linejoin="round">EU</text>
<text x="26.65" y="79.5" font-family="Liberation Sans" font-size="16.3" font-weight="normal" textLength="342.25" lengthAdjust="spacingAndGlyphs" fill="#3d4651">Total number of incidents and percentage change</text>
<text x="111.35" y="133.9" font-family="Liberation Sans" font-size="16.4" font-weight="normal" textLength="34.25" lengthAdjust="spacingAndGlyphs" fill="#333d49">2022</text>
<text x="111.35" y="158.3" font-family="Liberation Sans" font-size="16.4" font-weight="normal" textLength="31.50" lengthAdjust="spacingAndGlyphs" fill="#333d49">2021</text>
<text x="601.15" y="161.5" font-family="Liberation Sans" font-size="16.3" font-weight="normal" textLength="107.50" lengthAdjust="spacingAndGlyphs" fill="#4b5561">Western Balkan</text>
<text x="601.20" y="177.6" font-family="Liberation Sans" font-size="16.3" font-weight="bold" textLength="117.25" lengthAdjust="spacingAndGlyphs" fill="#0b2b57">144,118 (+134 %)</text>
<text x="651.55" y="270.2" font-family="Liberation Sans" font-size="16.3" font-weight="normal" textLength="158.75" lengthAdjust="spacingAndGlyphs" fill="#4b5561">Eastern Mediterranean</text>
<text x="652.15" y="286.6" font-family="Liberation Sans" font-size="16.3" font-weight="bold" textLength="109.50" lengthAdjust="spacingAndGlyphs" fill="#0b2b57">43,906 (+124 %)</text>
<text x="280.25" y="242.2" font-family="Liberation Sans" font-size="16.3" font-weight="normal" textLength="163.00" lengthAdjust="spacingAndGlyphs" fill="#4b5561">Western Mediterranean</text>
<text x="345.50" y="259.3" font-family="Liberation Sans" font-size="16.3" font-weight="bold" textLength="97.50" lengthAdjust="spacingAndGlyphs" fill="#0b2b57">15,134 (-18 %)</text>
<text x="455.75" y="357.4" font-family="Liberation Sans" font-size="16.3" font-weight="normal" textLength="155.50" lengthAdjust="spacingAndGlyphs" fill="#4b5561">Central Mediterranean</text>
<text x="478.40" y="374.7" font-family="Liberation Sans" font-size="16.3" font-weight="bold" textLength="109.75" lengthAdjust="spacingAndGlyphs" fill="#0b2b57">105,561 (+56 %)</text>
<text x="303.55" y="385.1" font-family="Liberation Sans" font-size="16.3" font-weight="normal" textLength="109.25" lengthAdjust="spacingAndGlyphs" fill="#4b5561">Western African</text>
<text x="303.60" y="401.2" font-family="Liberation Sans" font-size="16.3" font-weight="bold" textLength="97.00" lengthAdjust="spacingAndGlyphs" fill="#0b2b57">15,463 (-31 %)</text>
<text x="78.10" y="432" font-family="Liberation Sans" font-size="12.4" font-weight="normal" textLength="130.25" lengthAdjust="spacingAndGlyphs" fill="#69727d">Source: Frontex; UNHCR</text>

<rect x="0" y="0" width="1024" height="1" fill="#ffffff"/>
<rect x="0" y="0" width="1" height="450" fill="#ffffff"/>
</svg>

</div>
</body></html>
